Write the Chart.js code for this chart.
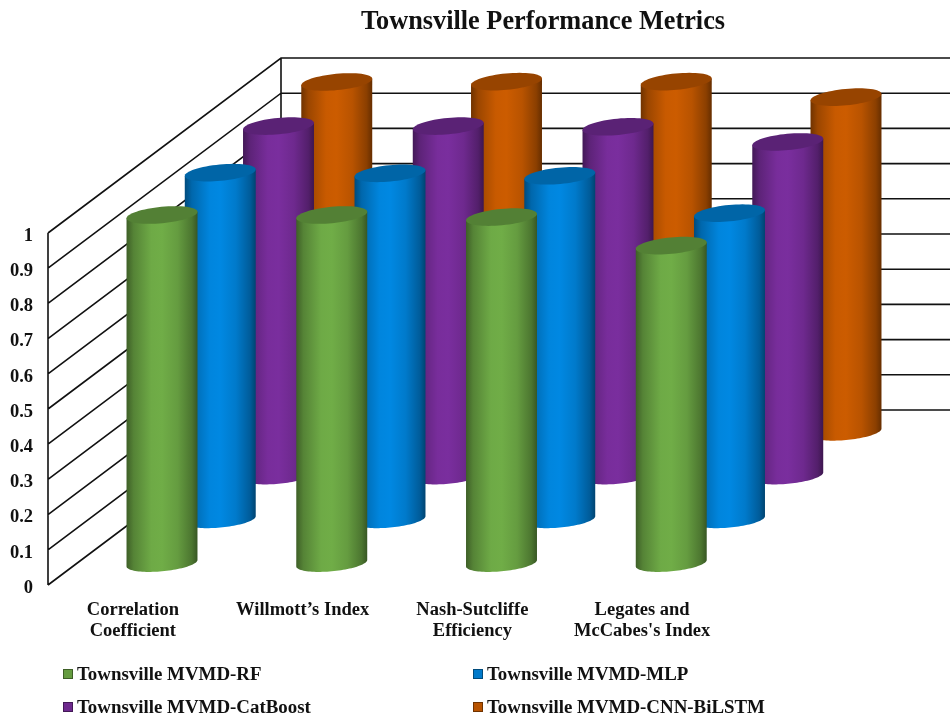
<!DOCTYPE html>
<html>
<head>
<meta charset="utf-8">
<style>html,body{margin:0;padding:0;background:#fff}canvas{display:block}</style>
<script src="https://cdn.jsdelivr.net/npm/chart.js@4/dist/chart.umd.min.js"></script>
</head>
<body>
<canvas id="chart" width="950" height="715"></canvas>
<script>
const categories = [["Correlation", "Coefficient"], "Willmott\u2019s Index", ["Nash-Sutcliffe", "Efficiency"], ["Legates and", "McCabes's Index"]];
const chartTitle = "Townsville Performance Metrics";
const seriesNames = ["Townsville MVMD-RF", "Townsville MVMD-MLP", "Townsville MVMD-CatBoost", "Townsville MVMD-CNN-BiLSTM"];
const rfValues = [0.989, 0.989, 0.983, 0.902];
const mlpValues = [0.985, 0.983, 0.976, 0.870];
const catBoostValues = [0.993, 0.993, 0.991, 0.948];
const cnnBiLstmValues = [0.994, 0.995, 0.995, 0.951];
const baseColors = [[112, 173, 71], [0, 136, 226], [122, 46, 158], [204, 92, 0]];

const serif = "'Liberation Serif', serif";
const depth = { x: 233, y: -175 };
const rows = seriesNames.length;
const rightEdge = 950;
const ellipseSkewX = 13;
const ellipseMinorY = 8.8;

const shade = (c, f) => `rgb(${c.map(v => Math.round(v * f)).join(",")})`;

// Oblique point on the ellipse of a cylinder cross-section.
function ringPoint(cx, cy, ax, t) {
  return [cx + ax * Math.cos(t) + ellipseSkewX * Math.sin(t), cy - ellipseMinorY * Math.sin(t)];
}

function drawCylinder(ctx, cx, top, bottom, width, color) {
  const r = width / 2;
  const ax = Math.sqrt(r * r - ellipseSkewX * ellipseSkewX);
  const t0 = Math.atan2(ellipseSkewX, ax);
  const grad = ctx.createLinearGradient(cx - r, 0, cx + r, 0);
  grad.addColorStop(0, shade(color, 0.55));
  grad.addColorStop(0.1, shade(color, 0.76));
  grad.addColorStop(0.35, shade(color, 0.98));
  grad.addColorStop(0.5, shade(color, 1));
  grad.addColorStop(0.72, shade(color, 0.9));
  grad.addColorStop(0.92, shade(color, 0.68));
  grad.addColorStop(1, shade(color, 0.5));

  ctx.beginPath();
  ctx.moveTo(...ringPoint(cx, top, ax, t0));
  for (let i = 0; i <= 48; i++) {
    ctx.lineTo(...ringPoint(cx, bottom, ax, t0 - Math.PI * i / 48));
  }
  ctx.lineTo(...ringPoint(cx, top, ax, t0 - Math.PI));
  ctx.closePath();
  ctx.fillStyle = grad;
  ctx.fill();

  ctx.beginPath();
  for (let i = 0; i < 64; i++) {
    ctx.lineTo(...ringPoint(cx, top, ax, Math.PI * 2 * i / 64));
  }
  ctx.closePath();
  ctx.fillStyle = shade(color, 0.74);
  ctx.fill();
}

const stage3d = {
  id: "stage3d",
  // Side wall and back wall with their gridlines, behind the cylinders.
  beforeDatasetsDraw(chart) {
    const { ctx, chartArea: area, scales: { y } } = chart;
    ctx.save();
    ctx.strokeStyle = "#111";
    ctx.lineWidth = 1.6;
    ctx.beginPath();
    y.ticks.forEach(tick => {
      const py = y.getPixelForValue(tick.value);
      ctx.moveTo(area.left, py);
      ctx.lineTo(area.left + depth.x, py + depth.y);
      ctx.lineTo(rightEdge, py + depth.y);
    });
    ctx.moveTo(area.left, area.top);
    ctx.lineTo(area.left, area.bottom);
    ctx.moveTo(area.left + depth.x, area.top + depth.y);
    ctx.lineTo(area.left + depth.x, area.bottom + depth.y);
    ctx.stroke();
    ctx.restore();
  },
  // Each bar element becomes a cylinder set back by its series' row.
  beforeDatasetDraw(chart, args) {
    const { ctx } = chart;
    const f = (args.index + 0.5) / rows;
    ctx.save();
    args.meta.data.forEach(bar => {
      const cx = bar.x + depth.x * f;
      drawCylinder(ctx, cx, bar.y + depth.y * f, bar.base + depth.y * f, bar.width, baseColors[args.index]);
    });
    ctx.restore();
    return false;
  },
  afterDraw(chart) {
    const { ctx } = chart;
    ctx.save();
    ctx.fillStyle = "#111";
    ctx.textBaseline = "middle";
    ctx.textAlign = "center";
    ctx.font = `bold 26.3px ${serif}`;
    ctx.fillText(chartTitle, 543, 22);

    // Two-column key under the plot.
    const columns = [63, 473];
    const lines = [674, 707];
    ctx.textAlign = "left";
    ctx.font = `bold 18.9px ${serif}`;
    chart.data.datasets.forEach((ds, i) => {
      const x = columns[i % 2];
      const y = lines[Math.floor(i / 2)];
      ctx.fillStyle = shade(baseColors[i], 0.9);
      ctx.strokeStyle = shade(baseColors[i], 0.55);
      ctx.lineWidth = 1;
      ctx.fillRect(x, y - 5, 10, 10);
      ctx.strokeRect(x + 0.5, y - 4.5, 9, 9);
      ctx.fillStyle = "#111";
      ctx.fillText(ds.label, x + 14, y + 1);
    });
    ctx.restore();
  }
};

const seriesValues = [rfValues, mlpValues, catBoostValues, cnnBiLstmValues];

new Chart(document.getElementById("chart"), {
  type: "bar",
  data: {
    labels: categories,
    datasets: seriesNames.map((label, i) => ({
      label,
      data: seriesValues[i],
      backgroundColor: shade(baseColors[i], 1),
      grouped: false,
      categoryPercentage: 1,
      barPercentage: 0.418
    }))
  },
  plugins: [stage3d],
  options: {
    responsive: false,
    animation: false,
    layout: { padding: { top: 233, right: 223, left: 0, bottom: 0 } },
    plugins: { legend: { display: false }, title: { display: false }, tooltip: { enabled: false } },
    scales: {
      x: {
        grid: { display: false, drawTicks: false },
        border: { display: false },
        afterFit: s => { s.height = 130; },
        ticks: {
          autoSkip: false, maxRotation: 0, minRotation: 0, padding: 15, color: "#111",
          font: { family: serif, weight: "bold", size: 18.5, lineHeight: 1.135 }
        }
      },
      y: {
        min: 0, max: 1,
        grid: { display: false, drawTicks: false },
        border: { display: false },
        afterFit: s => { s.width = 48; },
        ticks: {
          stepSize: 0.1, padding: 15, color: "#111", labelOffset: 3,
          callback: v => String(+v.toFixed(1)),
          font: { family: serif, weight: "bold", size: 18.5 }
        }
      }
    }
  }
});
</script>
</body>
</html>
